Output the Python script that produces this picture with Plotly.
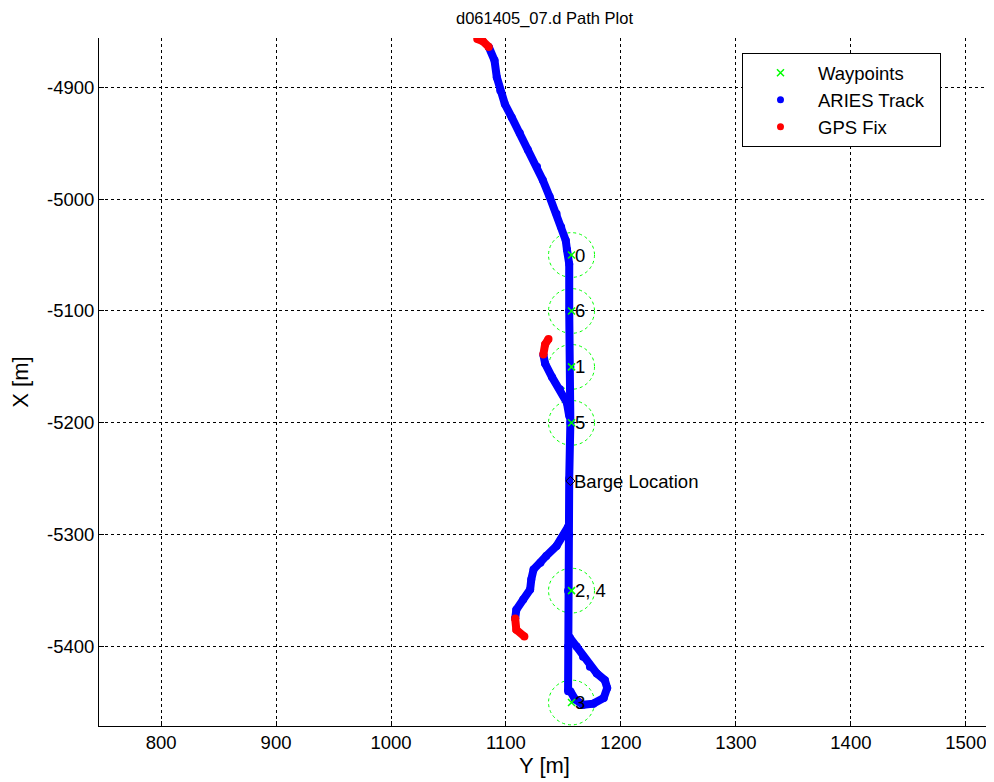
import plotly.graph_objects as go

# ---- data ----
wp_x = [1157, 1157, 1157, 1157, 1157, 1157]
wp_y = [-5050, -5100, -5150, -5200, -5350, -5450]
wp_labels = ["0", "6", "1", "5", "2, 4", "3"]
wp_radius = 20

barge_x = [1156]
barge_y = [-5252]
barge_label = "Barge Location"

# GPS fixes (red)
gps_top_x = [1075, 1080, 1085]
gps_top_y = [-4857, -4859, -4864]
gps_mid_x = [1137, 1134, 1132.5]
gps_mid_y = [-5125, -5130, -5139]
gps_low_x = [1108, 1109, 1116]
gps_low_y = [-5375, -5385, -5391]

# ARIES track (blue)
trk_main_x = [1085, 1090, 1092, 1095, 1099, 1105, 1112, 1119, 1127, 1132, 1138, 1144,
              1148, 1152, 1153, 1155, 1155, 1156, 1156, 1155, 1155, 1154, 1154, 1154]
trk_main_y = [-4864, -4876, -4891, -4903, -4915, -4927, -4941, -4956, -4971, -4983, -4998, -5013,
              -5025, -5037, -5045, -5058, -5100, -5150, -5200, -5250, -5300, -5350, -5400, -5440]
trk_loop_x = [1155.5, 1161.5, 1167, 1173, 1179, 1186, 1188, 1185, 1176, 1167, 1160, 1156]
trk_loop_y = [-5392, -5400, -5409, -5418, -5424, -5430, -5437, -5446, -5451, -5452, -5447, -5440]
trk_mid_x = [1132.5, 1134, 1140, 1147, 1153, 1155]
trk_mid_y = [-5139, -5147, -5159, -5170, -5182, -5194]
trk_low_x = [1154, 1150, 1144, 1135, 1130, 1124, 1122, 1121, 1115, 1109, 1108]
trk_low_y = [-5293, -5301, -5310, -5319, -5325, -5331, -5340, -5349, -5358, -5367, -5375]

x_ticks = [800, 900, 1000, 1100, 1200, 1300, 1400, 1500]
y_ticks = [-5400, -5300, -5200, -5100, -5000, -4900]

BLUE = "#0000ff"
RED = "#ff0000"
GREEN = "#00ff00"
FONT = "Liberation Sans, Arial, sans-serif"
FS = 18.5
PAD = "\u00a0\u00a0"

fig = go.Figure()

def seg(xs, ys, color):
    fig.add_trace(go.Scatter(x=xs, y=ys, mode="lines+markers",
                             line=dict(color=color, width=8),
                             marker=dict(color=color, size=8),
                             showlegend=False, hoverinfo="skip"))

for xs, ys in [(trk_main_x, trk_main_y), (trk_loop_x, trk_loop_y),
               (trk_mid_x, trk_mid_y), (trk_low_x, trk_low_y)]:
    seg(xs, ys, BLUE)
for xs, ys in [(gps_top_x, gps_top_y), (gps_mid_x, gps_mid_y), (gps_low_x, gps_low_y)]:
    seg(xs, ys, RED)

# waypoints
fig.add_trace(go.Scatter(x=wp_x, y=wp_y, mode="markers", name="Waypoints", legendgroup="a",
                         marker=dict(symbol="x-thin", size=7, line=dict(color=GREEN, width=1.5),
                                     color=GREEN)))
# legend entries
fig.add_trace(go.Scatter(x=[None], y=[None], mode="markers", name="ARIES Track" + PAD,
                         legendgroup="b", marker=dict(color=BLUE, size=7)))
fig.add_trace(go.Scatter(x=[None], y=[None], mode="markers", name="GPS Fix", legendgroup="c",
                         marker=dict(color=RED, size=7)))

# barge
fig.add_trace(go.Scatter(x=barge_x, y=barge_y, mode="markers", showlegend=False,
                         marker=dict(symbol="diamond-open", size=7, color="black",
                                     line=dict(width=1))))
fig.add_annotation(x=barge_x[0], y=barge_y[0], text=barge_label, showarrow=False,
                   xanchor="left", yanchor="middle", xshift=2,
                   font=dict(family=FONT, size=FS, color="black"))

shapes = []
for cx, cy, lab in zip(wp_x, wp_y, wp_labels):
    shapes.append(dict(type="circle", xref="x", yref="y",
                       x0=cx - wp_radius, x1=cx + wp_radius,
                       y0=cy - wp_radius, y1=cy + wp_radius,
                       line=dict(color=GREEN, width=1, dash="dot"), layer="below"))
    fig.add_annotation(x=cx, y=cy, text=lab, showarrow=False, xanchor="left",
                       yanchor="middle", xshift=1,
                       font=dict(family=FONT, size=FS, color="black"))

# page body has an 8px default margin: size the figure to fit the window
W, H = 986, 774
fig.update_layout(
    width=W, height=H,
    margin=dict(l=91, r=4, t=30, b=56, autoexpand=False),
    paper_bgcolor="white", plot_bgcolor="white",
    font=dict(family=FONT, size=FS, color="black"),
    shapes=shapes,
    title=dict(text="d061405_07.d Path Plot", x=0.5, xref="paper", xanchor="center",
               y=1 - 10 / H, yanchor="middle", font=dict(size=16.5), automargin=False),
    legend=dict(x=0.945, y=0.978, xanchor="right", yanchor="top",
                bgcolor="white", bordercolor="black", borderwidth=1,
                font=dict(size=FS), tracegroupgap=0, itemsizing="trace",
                itemwidth=65),
    xaxis=dict(range=[746, 1521], tickvals=x_ticks, ticktext=[str(v) for v in x_ticks],
               showgrid=True, gridcolor="black", griddash="dot", gridwidth=1,
               showline=True, linecolor="black", linewidth=1, mirror=False,
               ticks="inside", ticklen=5, tickcolor="black", zeroline=False,
               automargin=False, title=dict(text="Y [m]", standoff=4), tickfont=dict(size=FS)),
    yaxis=dict(range=[-5471, -4856], tickvals=y_ticks, ticktext=[str(v) for v in y_ticks],
               showgrid=True, gridcolor="black", griddash="dot", gridwidth=1,
               showline=True, linecolor="black", linewidth=1, mirror=False,
               ticks="inside", ticklen=5, tickcolor="black", zeroline=False,
               automargin=False, title=dict(text="X [m]", standoff=15), tickfont=dict(size=FS)),
)

fig.write_html("out.html")
